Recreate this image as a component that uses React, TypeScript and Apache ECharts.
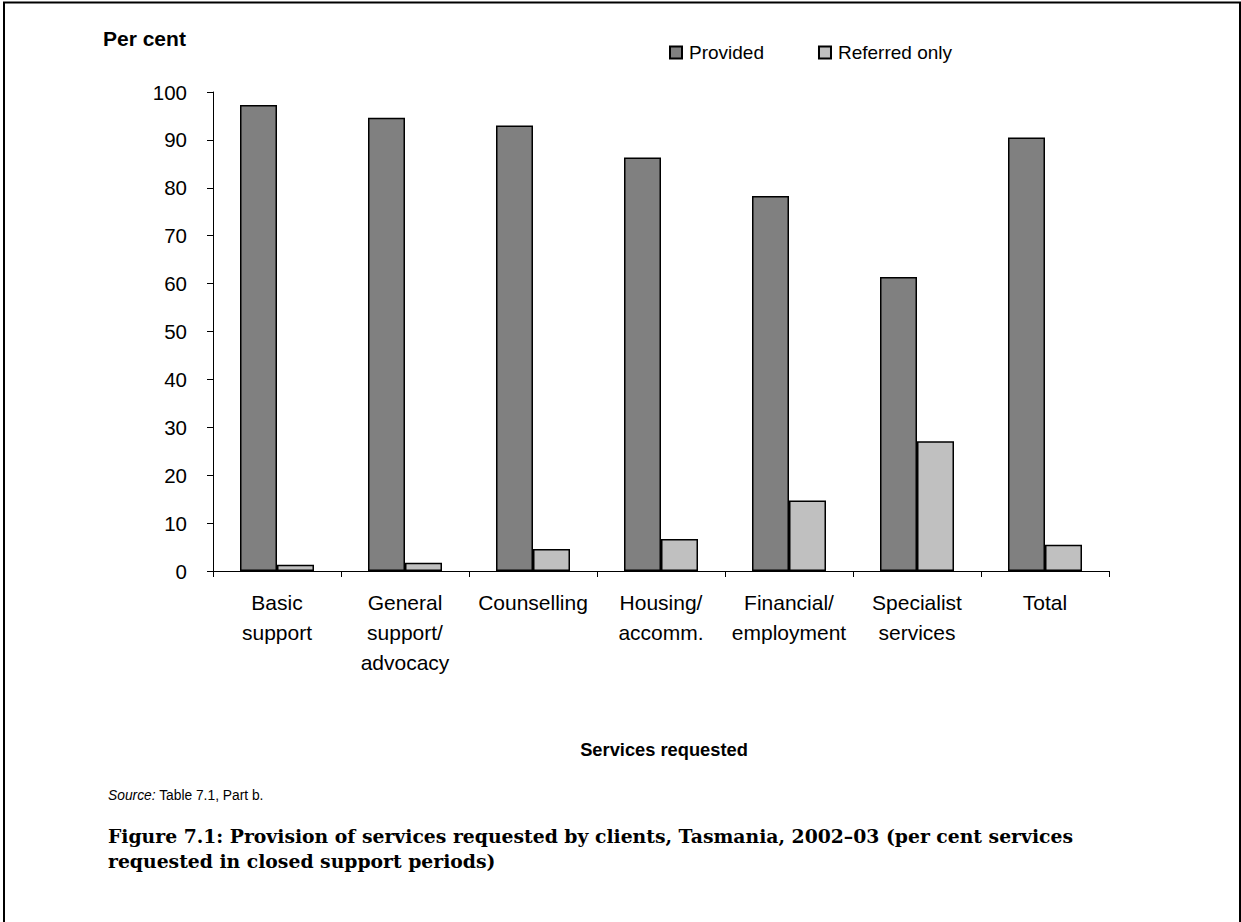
import React, { useEffect, useRef } from "react";
import * as echarts from "echarts";

const categories = [
  "Basic\nsupport",
  "General\nsupport/\nadvocacy",
  "Counselling",
  "Housing/\naccomm.",
  "Financial/\nemployment",
  "Specialist\nservices",
  "Total",
];
const providedValues = [97.3, 94.6, 93.0, 86.3, 78.3, 61.4, 90.5];
const referredValues = [1.3, 1.7, 4.6, 6.7, 14.7, 27.1, 5.5];
const seriesNames = ["Provided", "Referred only"];
const yAxisTitle = "Per cent";
const xAxisTitle = "Services requested";
const sourceLabel = "Source:";
const sourceText = " Table 7.1, Part b.";
const captionLines = [
  "Figure 7.1: Provision of services requested by clients, Tasmania, 2002–03 (per cent services",
  "requested in closed support periods)",
];

const SANS = "'Liberation Sans', Arial, Helvetica, sans-serif";
const SERIF = "'DejaVu Serif', 'Liberation Serif', serif";

export default function App() {
  const ref = useRef<HTMLDivElement>(null);
  useEffect(() => {
    if (!ref.current) return;
    const chart = echarts.init(ref.current, undefined, { renderer: "svg" });
    chart.setOption({
      animation: false,
      backgroundColor: "#ffffff",
      textStyle: { fontFamily: SANS, color: "#000" },
      grid: { left: 213, top: 92, width: 896, height: 479, containLabel: false },
      legend: {
        left: 664,
        top: 38,
        icon: "rect",
        itemWidth: 12,
        itemHeight: 12,
        itemGap: 54,
        textStyle: { fontFamily: SANS, fontSize: 19, color: "#000", padding: [0, 0, 0, 2] },
        data: seriesNames,
      },
      xAxis: {
        type: "category",
        data: categories,
        axisLine: { show: true, lineStyle: { color: "#000", width: 1 } },
        axisTick: { show: true, length: 6, lineStyle: { color: "#000" } },
        axisLabel: {
          fontFamily: SANS,
          fontSize: 21,
          lineHeight: 30,
          color: "#000",
          margin: 16,
          interval: 0,
        },
      },
      yAxis: {
        type: "value",
        min: 0,
        max: 100,
        interval: 10,
        axisLine: { show: true, lineStyle: { color: "#000", width: 1 } },
        axisTick: { show: true, length: 6, lineStyle: { color: "#000" } },
        splitLine: { show: false },
        axisLabel: { fontFamily: SANS, fontSize: 20.5, color: "#000", margin: 26 },
      },
      series: [
        {
          name: seriesNames[0],
          type: "bar",
          data: providedValues,
          barWidth: 37,
          barGap: "0%",
          itemStyle: { color: "#808080", borderColor: "#000", borderWidth: 1.5 },
        },
        {
          name: seriesNames[1],
          type: "bar",
          data: referredValues,
          barWidth: 37,
          barGap: "0%",
          itemStyle: { color: "#c0c0c0", borderColor: "#000", borderWidth: 1.5 },
        },
      ],
      graphic: [
        {
          type: "rect",
          shape: { x: 4, y: 2.5, width: 1236, height: 960 },
          style: { fill: "none", stroke: "#000", lineWidth: 2 },
          silent: true,
        },
        {
          type: "text",
          x: 103,
          y: 38,
          style: {
            text: yAxisTitle,
            font: `bold 21px ${SANS}`,
            fill: "#000",
            textVerticalAlign: "middle",
          },
        },
        {
          type: "text",
          x: 664,
          y: 749,
          style: {
            text: xAxisTitle,
            font: `bold 18.3px ${SANS}`,
            fill: "#000",
            textAlign: "center",
            textVerticalAlign: "middle",
          },
        },
        {
          type: "text",
          x: 108,
          y: 795,
          style: {
            text: `{i|${sourceLabel}}{n|${sourceText}}`,
            textVerticalAlign: "middle",
            rich: {
              i: { fontFamily: SANS, fontSize: 13.8, fontStyle: "italic", fill: "#000" },
              n: { fontFamily: SANS, fontSize: 13.8, fill: "#000" },
            },
          },
        },
        {
          type: "text",
          x: 108,
          y: 836,
          style: {
            text: captionLines[0],
            font: `bold 18.8px ${SERIF}`,
            fill: "#000",
            textVerticalAlign: "middle",
          },
        },
        {
          type: "text",
          x: 108,
          y: 861,
          style: {
            text: captionLines[1],
            font: `bold 18.8px ${SERIF}`,
            fill: "#000",
            textVerticalAlign: "middle",
          },
        },
      ],
    });
    return () => chart.dispose();
  }, []);
  return (
    <div
      ref={ref}
      style={{ position: "absolute", left: 0, top: 0, width: 1241, height: 922 }}
    />
  );
}
